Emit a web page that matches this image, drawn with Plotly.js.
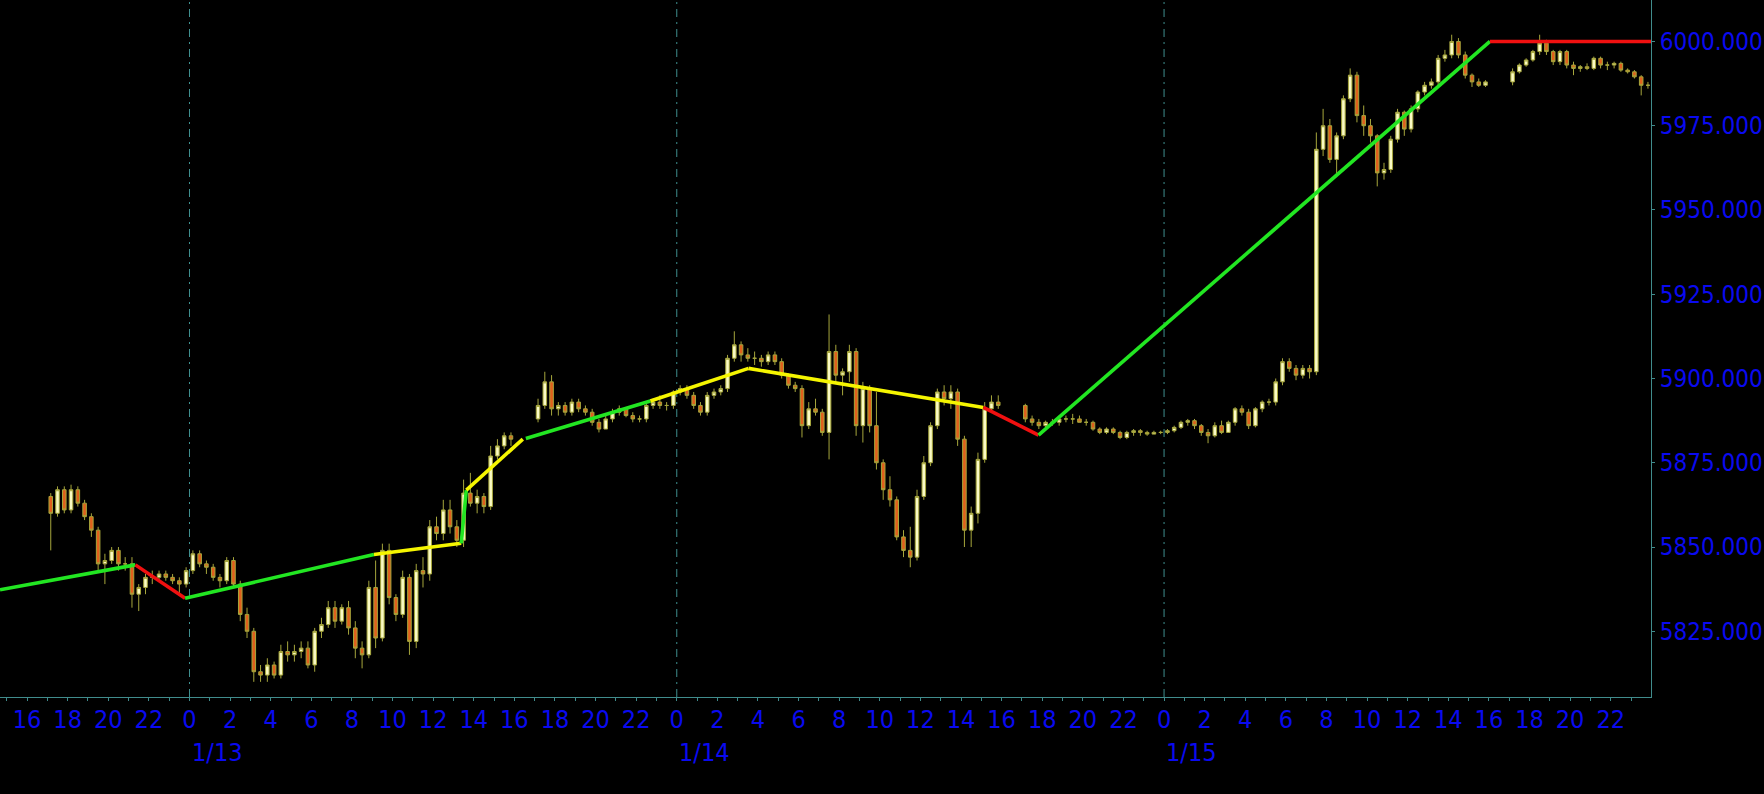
<!DOCTYPE html>
<html>
<head>
<meta charset="utf-8">
<script src="https://cdn.plot.ly/plotly-3.0.1.min.js"></script>
<style>
html,body{margin:0;padding:0;background:#000;overflow:hidden}
#chart{width:1764px;height:794px}
</style>
</head>
<body>
<div id="chart"></div>
<script>
// ---------- DATA (20-minute bars, Chicago time) ----------
const sessionStarts = ['2025-01-12 17:00', '2025-01-13 17:00', '2025-01-14 17:00', '2025-01-15 17:00'];
const barMinutes = 20;

// Session 1 : 1/12 17:00 - 1/13 16:00
const open1  = [5865,5860,5867,5861,5867,5863,5859,5855,5845,5846,5849,5845,5845,5836,5838,5841,5841,5842,5841,5840,5839,5843,5848,5845,5844,5841,5840,5846,5839,5830,5825,5813,5812,5815,5812,5819,5818,5819,5820,5815,5825,5827,5832,5828,5832,5826,5820,5818,5838,5823,5849,5835,5830,5841,5822,5843,5842,5856,5854,5861,5856,5852,5866,5863,5865,5862,5877,5880,5883];
const high1  = [5866,5868,5868,5868.5,5868,5864,5860,5856,5848,5850,5850,5847,5847,5839,5842,5843,5843,5843,5842,5841,5844,5849,5849,5846,5845,5842,5847,5847,5840,5832,5826,5815,5817,5816,5821,5822,5821,5822,5822,5826,5829,5834,5834,5833,5834,5828,5822,5840,5846,5851,5851,5836,5843,5842,5845,5847,5858,5859,5864,5864,5858,5870,5872,5867,5866,5880,5882,5884,5884];
const low1   = [5849,5859,5860,5860,5862,5858,5853,5843,5839,5845,5843,5843,5832,5831,5836,5839,5840,5840,5839,5836,5838,5842,5844,5842,5840,5838,5839,5838,5828,5823,5810,5810,5810,5811,5811,5816,5816,5817,5814,5813,5823,5826,5826,5827,5824,5817,5814,5817,5820,5822,5833,5828,5829,5818,5820,5838,5840,5852,5852,5854,5850,5850,5862,5860,5860,5861,5876,5879,5880];
const close1 = [5860,5867,5861,5867,5863,5859,5855,5845,5846,5849,5845,5845,5836,5838,5841,5841,5842,5841,5840,5839,5843,5848,5845,5844,5841,5840,5846,5839,5830,5825,5813,5812,5815,5812,5819,5818,5819,5820,5815,5825,5827,5832,5828,5832,5826,5820,5818,5838,5823,5849,5835,5830,5841,5822,5843,5842,5856,5854,5861,5856,5852,5866,5863,5865,5862,5877,5880,5883,5882];

// Session 2 : 1/13 17:00 - 1/14 16:00
const open2  = [5888,5892,5899,5891,5892,5890,5893,5891,5890,5887,5885,5888,5890,5891,5889,5888,5888,5892,5893,5892,5892,5896,5897,5895,5892,5890,5895,5896,5897,5906,5910,5907,5906,5906,5905,5907,5905,5901,5898,5897,5886,5891,5890,5884,5908,5901,5902,5908,5886,5897,5886,5875,5867,5864,5853,5849,5847,5865,5875,5886,5896,5894,5896,5882,5855,5860,5876,5891,5893];
const high2  = [5894,5902,5901,5893,5893,5894,5894,5892,5891,5888,5889,5891,5892,5891.5,5890,5889,5893,5894,5895,5893,5896.5,5898,5898,5896,5893,5896,5897,5898,5907,5914,5911,5909,5908,5907,5908,5908,5906,5901.5,5899,5898,5893,5894,5891,5919,5910,5903,5910,5909,5899,5898,5896,5876,5871,5865,5855,5856,5867,5877,5887,5897,5898,5898,5897,5883,5862,5878,5893,5895,5895];
const low2   = [5887,5891,5889,5889,5889,5889,5890,5889,5886,5884,5885,5887,5889,5888.5,5887,5887,5887,5891,5891,5890.5,5891,5895,5894,5891,5889,5889,5894,5895,5896,5905,5905,5905,5904,5903.5,5904,5904,5900,5897,5896,5882.5,5885,5889,5883,5876,5899,5895,5899,5883,5881,5884,5873,5864,5862,5852,5847,5844,5846,5864,5874,5885,5892,5891,5880,5850,5850,5857,5875,5890,5891];
const close2 = [5892,5899,5891,5892,5890,5893,5891,5890,5887,5885,5888,5890,5891,5889,5888,5888,5892,5893,5892,5892,5896,5897,5895,5892,5890,5895,5896,5897,5906,5910,5907,5906,5906,5905,5907,5905,5901,5898,5897,5886,5891,5890,5884,5908,5901,5902,5908,5886,5897,5886,5875,5867,5864,5853,5849,5847,5865,5875,5886,5896,5894,5896,5882,5855,5860,5876,5891,5893,5892];

// Session 3 : 1/14 17:00 - 1/15 16:00
const open3  = [5892,5888,5887,5886,5887,5887,5888,5888,5888,5887,5887,5885,5884,5885,5884,5882.5,5884,5884.5,5884,5883.5,5884,5884,5884.5,5885.5,5887,5887.5,5886,5884,5883,5886,5884,5887,5891,5890,5886,5891,5893,5893,5899,5905,5903,5901,5903,5902,5968,5975,5965,5972,5983,5990,5978,5975,5972,5961,5962,5971,5979,5974,5980,5985,5987,5988,5995,5996,6000,5996,5990,5988,5987];
const high3  = [5892.5,5889,5888,5887.5,5888,5888.5,5889,5889.5,5889,5888,5887.5,5885.5,5885.5,5885.5,5884.5,5884.5,5885,5885,5884.5,5884.5,5884.5,5885,5886,5887.5,5888,5888,5886.5,5885,5887,5887.5,5887.5,5891.5,5892,5891,5891.5,5893.5,5894,5900,5906,5906,5904,5904,5904,5973,5980,5977,5973,5984,5992,5991,5981,5977,5972.5,5964,5972,5980,5979.5,5981,5985.5,5988,5989,5996,5997.5,6002,6001,5997,5990.5,5989,5988.5];
const low3   = [5887,5886,5885,5885,5886,5886,5887,5886.5,5887,5886,5884.5,5883.5,5883.5,5883.5,5882,5882,5883,5883,5883,5883.5,5883.5,5883.5,5884,5885,5886,5885,5883,5880.8,5882.5,5883.5,5884,5886,5889,5885,5885.5,5890,5892,5892,5898,5902,5899.5,5900,5900,5901,5966,5964,5960,5971,5982,5976,5972,5970,5957,5959,5961,5970,5972,5973,5979,5984,5986,5987,5994,5995,5995,5989,5986.5,5986.5,5986.5];
const close3 = [5888,5887,5886,5887,5887,5888,5888,5888,5887,5887,5885,5884,5885,5884,5882.5,5884,5884.5,5884,5883.5,5884,5884,5884.5,5885.5,5887,5887.5,5886,5884,5883,5886,5884,5887,5891,5890,5886,5891,5893,5893,5899,5905,5903,5901,5903,5902,5968,5975,5965,5972,5983,5990,5978,5975,5972,5961,5962,5971,5979,5974,5980,5985,5987,5988,5995,5996,6000,5996,5990,5988,5987,5988];

// Session 4 : 1/15 17:00 - 1/16 00:00
const open4  = [5988,5991,5993,5994.5,5997,5999.5,5997,5994,5997,5993,5992,5992.5,5992,5995,5993,5993,5993.5,5991.5,5991,5989.5,5987];
const high4  = [5992,5993.5,5995,5997.5,6002,6000.5,5997.5,5997.5,5997.5,5994,5993,5993.5,5995.5,5995.5,5994,5994,5994,5992,5991.5,5990,5988];
const low4   = [5987,5990.5,5992.5,5994,5996,5996,5993,5993,5992,5990,5991,5991.5,5991.5,5992,5991.5,5992,5991,5990.5,5989,5984,5986];
const close4 = [5991,5993,5994.5,5997,5999.5,5997,5994,5997,5993,5992,5992.5,5992,5995,5993,5993,5993.5,5991.5,5991,5989.5,5987,5987];

// Zigzag swing points and the trend of each leg (null = break)
const zzTimes  = ['2025-01-12 14:40','2025-01-12 21:20','2025-01-12 23:47','2025-01-13 09:05','2025-01-13 13:23','2025-01-13 13:38','2025-01-13 16:25','2025-01-13 16:34','2025-01-13 22:42','2025-01-14 03:32','2025-01-14 15:06','2025-01-14 17:49','2025-01-15 16:03','2025-01-15 23:59'];
const zzValues = [5837.3, 5844.7, 5834.8, 5847.8, 5851.1, 5866.9, 5882.0, 5882.2, 5893.3, 5903.0, 5891.4, 5883.2, 6000.0, 6000.0];
const zzTrend  = ['up','down','up','flat','up','flat',null,'up','flat','flat','down','up','down'];

// Axis labels
const dayLines  = ['2025-01-13 00:00','2025-01-14 00:00','2025-01-15 00:00'];
const dayLabels = ['1/13','1/14','1/15'];
const xRange = ['2025-01-12 14:40','2025-01-15 23:59'];
const yRange = [5805.5, 6012.3];

// ---------- BUILD ----------
function toMs(s){const [d,t]=s.split(' ');const [Y,M,D]=d.split('-').map(Number);const [h,m]=t.split(':').map(Number);return Date.UTC(Y,M-1,D,h,m);}
function fmt(ms){const d=new Date(ms);const p=n=>String(n).padStart(2,'0');return d.getUTCFullYear()+'-'+p(d.getUTCMonth()+1)+'-'+p(d.getUTCDate())+' '+p(d.getUTCHours())+':'+p(d.getUTCMinutes());}

const opens=[open1,open2,open3,open4], highs=[high1,high2,high3,high4], lows=[low1,low2,low3,low4], closes=[close1,close2,close3,close4];
const X=[],O=[],H=[],L=[],C=[];
sessionStarts.forEach((s,si)=>{
  const t0=toMs(s);
  opens[si].forEach((v,k)=>{
    X.push(fmt(t0+(k*barMinutes+barMinutes/2)*60000));
    O.push(v);H.push(highs[si][k]);L.push(lows[si][k]);C.push(closes[si][k]);
  });
});

const WICK='#a6a63c';
const traces=[{
  type:'candlestick', x:X, open:O, high:H, low:L, close:C,
  increasing:{line:{color:WICK,width:1},fillcolor:'#fafac4'},
  decreasing:{line:{color:WICK,width:1},fillcolor:'#e0601c'},
  whiskerwidth:0, hoverinfo:'skip', showlegend:false
}];
const trendColor={up:'#22e622',down:'#f01010',flat:'#f5f500'};
zzTrend.forEach((tr,i)=>{
  if(!tr) return;
  traces.push({type:'scatter',mode:'lines',x:[zzTimes[i],zzTimes[i+1]],y:[zzValues[i],zzValues[i+1]],
    line:{color:trendColor[tr],width:3.6},hoverinfo:'skip',showlegend:false});
});

const AX='#408c8c', TXT='#0a0af0';
const FONT='"DejaVu Sans Condensed", "Liberation Sans Narrow", "DejaVu Sans", sans-serif';
const shapes=dayLines.map(d=>({type:'line',xref:'x',yref:'paper',x0:d,x1:d,y0:0,y1:1,layer:'below',
  line:{color:'#3f8f8f',width:1,dash:'8px,5px,2px,5px'}}));
const annotations=dayLines.map((d,i)=>({xref:'x',yref:'paper',x:d,y:-0.079,xanchor:'left',yanchor:'middle',
  text:dayLabels[i],showarrow:false,font:{family:FONT,size:25,color:TXT}}));

const layout={
  width:1764,height:794,autosize:false,
  paper_bgcolor:'#000',plot_bgcolor:'#000',
  margin:{l:0,r:113,t:0,b:97,pad:0},
  showlegend:false, boxgap:0.25,
  xaxis:{type:'date',range:xRange,showgrid:false,zeroline:false,showline:true,linecolor:AX,linewidth:1,
    ticks:'outside',ticklen:3,tickcolor:AX,tickmode:'linear',tick0:'2025-01-12 00:00',dtick:7200000,
    tickformat:'%-H',tickfont:{family:FONT,size:25,color:TXT},ticklabeloverflow:'allow',ticklabelstandoff:-3,
    minor:{tickmode:'linear',tick0:'2025-01-12 00:00',dtick:3600000,ticks:'outside',ticklen:3,tickcolor:AX,showgrid:false},
    rangeslider:{visible:false},fixedrange:true,automargin:false},
  yaxis:{side:'right',range:yRange,showgrid:false,zeroline:false,showline:true,linecolor:AX,linewidth:1,
    ticks:'outside',ticklen:3,tickcolor:AX,tickmode:'linear',tick0:5825,dtick:25,tickformat:'.3f',
    tickfont:{family:FONT,size:24,color:TXT},ticklabeloverflow:'allow',fixedrange:true,automargin:false},
  shapes:shapes, annotations:annotations
};
Plotly.newPlot('chart',traces,layout,{staticPlot:true,displayModeBar:false});
</script>
</body>
</html>
